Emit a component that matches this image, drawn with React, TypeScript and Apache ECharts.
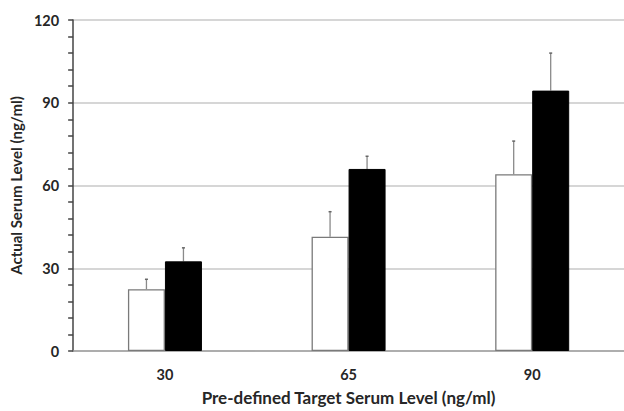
import React, { useEffect, useRef } from "react";
import * as echarts from "echarts";

const categories = ["30", "65", "90"];
const whiteMeans = [22.4, 41.4, 64.1];
const whiteErr = [3.6, 9.1, 12.0];
const blackMeans = [32.5, 66.0, 94.4];
const blackErr = [4.9, 4.6, 13.6];
const yTicks = { min: 0, max: 120, interval: 30 };

const BAR_W = 37;
const FONT = "Lato, 'Open Sans', sans-serif";
const TEXT = "#262626";

export default function App() {
  const ref = useRef<HTMLDivElement>(null);
  useEffect(() => {
    if (!ref.current) return;
    const chart = echarts.init(ref.current, null, { renderer: "svg" });

    const errData = (means: number[], errs: number[]) =>
      means.map((m, i) => [i, m, m + errs[i]]);

    const errSeries = (means: number[], errs: number[], offsetSign: number) => ({
      type: "custom",
      data: errData(means, errs),
      z: 1,
      renderItem: (params: any, api: any) => {
        const idx = api.value(0);
        const base = api.coord([idx, api.value(1)]);
        const top = api.coord([idx, api.value(2)]);
        const x = base[0] + (offsetSign * BAR_W) / 2;
        return {
          type: "group",
          children: [
            {
              type: "line",
              shape: { x1: x, y1: base[1], x2: x, y2: top[1] },
              style: { stroke: "#8a8a8a", lineWidth: 1.3 },
            },
            {
              type: "line",
              shape: { x1: x - 1.5, y1: top[1], x2: x + 1.5, y2: top[1] },
              style: { stroke: "#666", lineWidth: 1.5 },
            },
          ],
        };
      },
    });

    chart.setOption({
      animation: false,
      grid: { left: 72, right: 0, top: 20, bottom: 58 },
      xAxis: {
        type: "category",
        data: categories,
        axisLine: { show: true, lineStyle: { color: "#a0a0a0", width: 1.5 } },
        axisTick: { show: false },
        axisLabel: {
          fontFamily: FONT,
          fontWeight: "bold",
          fontSize: 14.5,
          color: TEXT,
          margin: 16,
        },
        name: "Pre-defined Target Serum Level (ng/ml)",
        nameLocation: "middle",
        nameGap: 38,
        nameTextStyle: {
          fontFamily: FONT,
          fontWeight: "bold",
          fontSize: 17,
          color: TEXT,
        },
      },
      yAxis: {
        type: "value",
        min: yTicks.min,
        max: yTicks.max,
        interval: yTicks.interval,
        axisLine: { show: true, lineStyle: { color: "#444", width: 1.5 } },
        axisTick: { show: true, length: 5, lineStyle: { color: "#444", width: 1.5 } },
        minorTick: { show: true, splitNumber: 5, length: 5, lineStyle: { color: "#444", width: 1.5 } },
        splitLine: { show: true, lineStyle: { color: "#c8c8c8", width: 1.5 } },
        axisLabel: {
          fontFamily: FONT,
          fontWeight: "bold",
          fontSize: 14.5,
          color: TEXT,
          margin: 14,
        },
        name: "Actual Serum Level (ng/ml)",
        nameLocation: "middle",
        nameGap: 44,
        nameTextStyle: {
          fontFamily: FONT,
          fontWeight: "bold",
          fontSize: 15,
          color: TEXT,
        },
      },
      series: [
        {
          type: "bar",
          data: whiteMeans,
          barWidth: BAR_W,
          barGap: "0%",
          z: 2,
          itemStyle: { color: "#fff", borderColor: "#7a7a7a", borderWidth: 1.3 },
        },
        {
          type: "bar",
          data: blackMeans,
          barWidth: BAR_W,
          barGap: "0%",
          z: 2,
          itemStyle: { color: "#000", borderColor: "#000", borderWidth: 1 },
        },
        errSeries(whiteMeans, whiteErr, -1),
        errSeries(blackMeans, blackErr, 1),
      ],
    });
    return () => chart.dispose();
  }, []);
  return (
    <div
      ref={ref}
      style={{ position: "fixed", left: 0, top: 0, width: 624, height: 411, background: "#fff" }}
    />
  );
}
